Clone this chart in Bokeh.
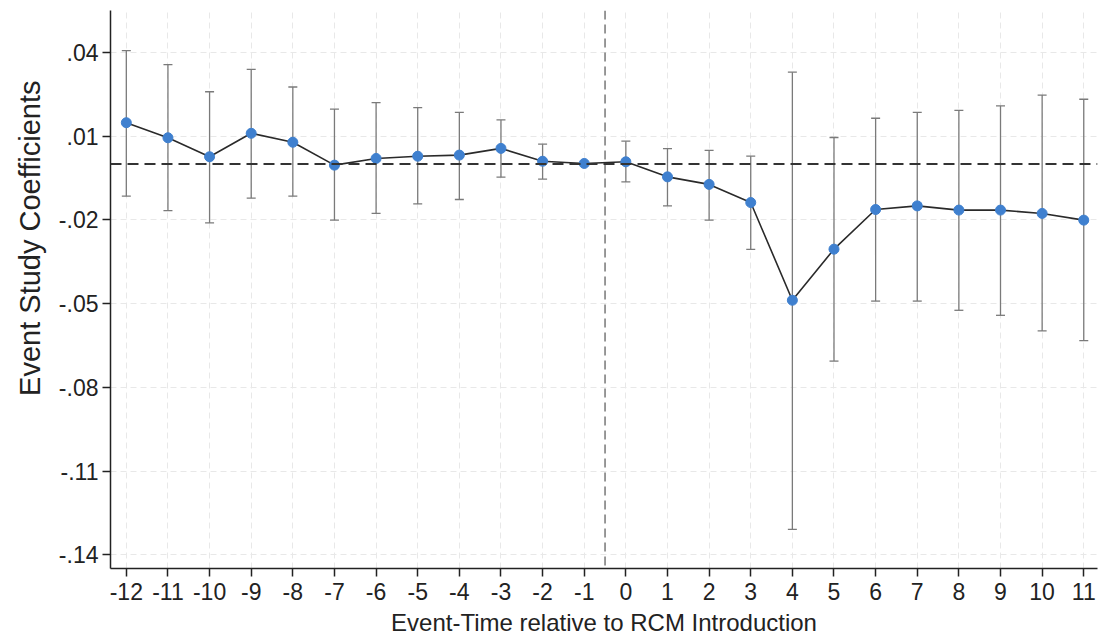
import math
from bokeh.plotting import figure
from bokeh.models import (ColumnDataSource, FixedTicker, Span, Whisker, TeeHead, Title)
from bokeh.embed import file_html
from bokeh.resources import INLINE

# ---- data ----
event_time = [-12, -11, -10, -9, -8, -7, -6, -5, -4, -3, -2, -1,
              0, 1, 2, 3, 4, 5, 6, 7, 8, 9, 10, 11]
coef = [0.0148, 0.0094, 0.0026, 0.0110, 0.0078, -0.0004, 0.0020, 0.0028,
        0.0032, 0.0056, 0.0010, 0.0002, 0.0008, -0.0046, -0.0073, -0.0138,
        -0.0488, -0.0305, -0.0163, -0.0150, -0.0165, -0.0165, -0.0177, -0.0201]
ci_upper = [0.0406, 0.0356, 0.0259, 0.0339, 0.0276, 0.0197, 0.0220, 0.0202,
            0.0185, 0.0158, 0.0071, float("nan"), 0.0082, 0.0055, 0.0049, 0.0028,
            0.0329, 0.0095, 0.0164, 0.0185, 0.0192, 0.0208, 0.0247, 0.0232]
ci_lower = [-0.0115, -0.0167, -0.0211, -0.0122, -0.0115, -0.0201, -0.0177, -0.0143,
            -0.0127, -0.0047, -0.0054, float("nan"), -0.0064, -0.0150, -0.0201, -0.0306,
            -0.1309, -0.0706, -0.0491, -0.0491, -0.0524, -0.0542, -0.0598, -0.0633]
y_ticks = [0.04, 0.01, -0.02, -0.05, -0.08, -0.11, -0.14]
y_tick_labels = [".04", ".01", "-.02", "-.05", "-.08", "-.11", "-.14"]
x_tick_labels = [str(v) for v in event_time]
x_title = "Event-Time relative to RCM Introduction"
y_title = "Event Study Coefficients"

FONT = "Liberation Sans"
TXT = "#222222"

p = figure(width=1098, height=641, output_backend="svg", toolbar_location=None,
           x_range=(-12.38, 11.33), y_range=(-0.1449, 0.055),
           frame_width=987, frame_height=558,
           min_border_left=110, min_border_right=1, min_border_top=10,
           min_border_bottom=73)
p.outline_line_color = None
p.background_fill_color = "white"
p.border_fill_color = "white"

# grids
p.xgrid.ticker = FixedTicker(ticks=event_time)
p.ygrid.ticker = FixedTicker(ticks=y_ticks)
for g in (p.xgrid, p.ygrid):
    g.grid_line_color = "#e8e8e8"
    g.grid_line_dash = "6 4"
    g.grid_line_width = 1

# axes
p.xaxis.ticker = FixedTicker(ticks=event_time)
p.xaxis.major_label_overrides = {v: s for v, s in zip(event_time, x_tick_labels)}
p.yaxis.ticker = FixedTicker(ticks=y_ticks)
p.yaxis.major_label_overrides = {v: s for v, s in zip(y_ticks, y_tick_labels)}
p.xaxis.axis_label = x_title
for ax in (p.xaxis, p.yaxis):
    ax.axis_line_color = "#222222"
    ax.axis_line_width = 1.5
    ax.major_tick_line_color = "#222222"
    ax.major_tick_line_width = 1.5
    ax.major_tick_out = 8
    ax.major_tick_in = 0
    ax.minor_tick_line_color = None
    ax.major_label_text_font = FONT
    ax.major_label_text_font_size = "23px"
    ax.major_label_text_color = TXT
    ax.axis_label_text_font = FONT
    ax.axis_label_text_font_size = "24px"
    ax.axis_label_text_font_style = "normal"
    ax.axis_label_text_color = TXT
p.xaxis.major_label_standoff = 6
p.xaxis.axis_label_standoff = 6
p.yaxis.major_label_standoff = 4
p.yaxis.major_label_orientation = "horizontal"

# y title placed like the reference (towards the top of the axis)
p.add_layout(Title(text=y_title, align="right", offset=70, standoff=20,
                   text_font=FONT, text_font_size="29px",
                   text_font_style="normal", text_color=TXT), "left")

# reference lines
p.add_layout(Span(location=-0.5, dimension="height", line_color="#777777",
                  line_width=1.5, line_dash="9 5"))
p.add_layout(Span(location=0, dimension="width", line_color="#333333",
                  line_width=2, line_dash="11 6"))

# error bars (skip reference period with no CI)
idx = [i for i in range(len(event_time)) if not math.isnan(ci_upper[i])]
err = ColumnDataSource(dict(x=[event_time[i] for i in idx],
                            lo=[ci_lower[i] for i in idx],
                            hi=[ci_upper[i] for i in idx]))
w = Whisker(source=err, base="x", lower="lo", upper="hi", dimension="height",
            line_color="#7a7a7a", line_width=1.3,
            lower_head=TeeHead(size=9, line_color="#7a7a7a", line_width=1.3),
            upper_head=TeeHead(size=9, line_color="#7a7a7a", line_width=1.3))
p.add_layout(w)

src = ColumnDataSource(dict(x=event_time, y=coef))
p.line("x", "y", source=src, line_color="#2a2a2a", line_width=1.6)
p.scatter("x", "y", source=src, size=10, fill_color="#3f80cf",
          line_color="#3f80cf")

open("out.html", "w").write(file_html(p, INLINE))
